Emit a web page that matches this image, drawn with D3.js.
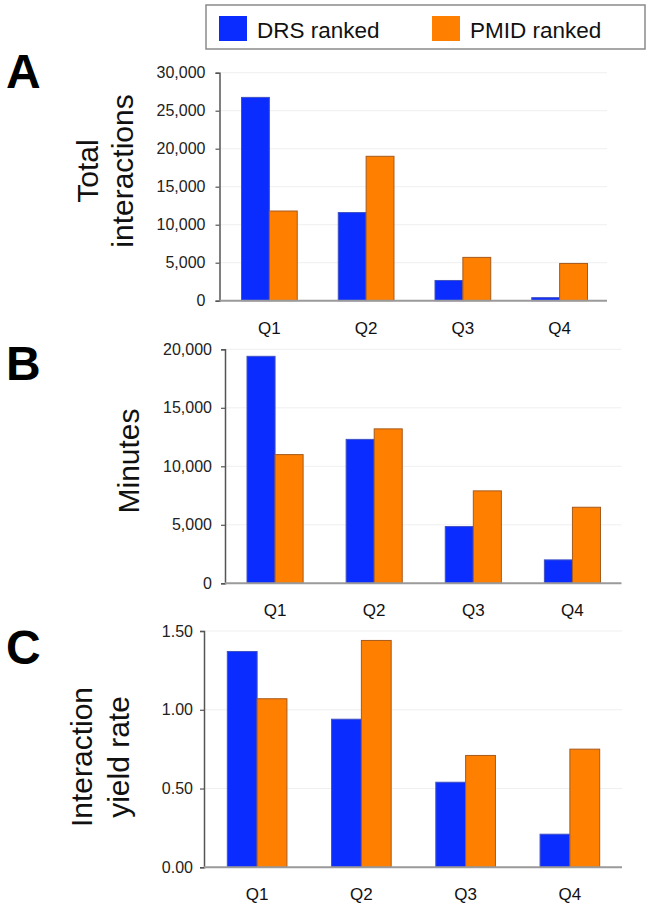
<!DOCTYPE html>
<html>
<head>
<meta charset="utf-8">
<script src="https://cdn.jsdelivr.net/npm/d3@7"></script>
<style>
  html, body { margin: 0; padding: 0; background: #fff; }
  svg { display: block; font-family: "Liberation Sans", Arial, sans-serif; }
</style>
</head>
<body>
<svg id="chart" width="652" height="909"></svg>
<script>
// ---- data ----
const categories = ["Q1", "Q2", "Q3", "Q4"];
const seriesNames = ["DRS ranked", "PMID ranked"];
const interactionsDRS = [26750, 11600, 2660, 400];
const interactionsPMID = [11800, 19000, 5700, 4900];
const minutesDRS = [19400, 12300, 4850, 2000];
const minutesPMID = [11000, 13200, 7900, 6500];
const yieldDRS = [1.37, 0.94, 0.54, 0.21];
const yieldPMID = [1.07, 1.44, 0.71, 0.75];
const interactionsTicks = [0, 5000, 10000, 15000, 20000, 25000, 30000];
const minutesTicks = [0, 5000, 10000, 15000, 20000];
const yieldTicks = [0, 0.5, 1.0, 1.5];

// ---- styles ----
const fills = ["#0b2cff", "#ff7f00"];
const strokes = ["#4052c4", "#a65a1c"];

const panels = [
  { letter: "A", letterY: 88, title: ["Total", "interactions"], titleX: [98, 133], titleY: 171,
    drs: interactionsDRS, pmid: interactionsPMID, ticks: interactionsTicks, fmt: d3.format(","),
    left: 219.5, right: 607, top: 72.7, bottom: 300.7, band: [221, 608], pi: 0.424, tickPad: 10 },
  { letter: "B", letterY: 380, title: ["Minutes"], titleX: [139], titleY: 461,
    drs: minutesDRS, pmid: minutesPMID, ticks: minutesTicks, fmt: d3.format(","),
    left: 225, right: 621.5, top: 349.3, bottom: 583.3, band: [225.5, 622], pi: 0.434, tickPad: 9 },
  { letter: "C", letterY: 664, title: ["Interaction", "yield rate"], titleX: [92, 129], titleY: 757,
    drs: yieldDRS, pmid: yieldPMID, ticks: yieldTicks, fmt: d3.format(".2f"),
    left: 204, right: 622, top: 631, bottom: 867.3, band: [205, 622], pi: 0.428, tickPad: 7 }
];

const svg = d3.select("#chart");

// ---- legend ----
const legend = svg.append("g");
legend.append("rect").attr("x", 206).attr("y", 5).attr("width", 439).attr("height", 44)
  .attr("fill", "#fff").attr("stroke", "#8a8a8a").attr("stroke-width", 1.5);
const legendX = [219, 432];
seriesNames.forEach((name, i) => {
  legend.append("rect").attr("x", legendX[i]).attr("y", 16).attr("width", 28).attr("height", 25)
    .attr("fill", fills[i]);
  legend.append("text").attr("x", legendX[i] + 38).attr("y", 37.5)
    .attr("font-size", 22.5).attr("fill", "#111").text(name);
});

// ---- panels ----
panels.forEach(p => {
  const g = svg.append("g");
  const maxV = p.ticks[p.ticks.length - 1];
  const y = d3.scaleLinear().domain([0, maxV]).range([p.bottom, p.top]);
  const x = d3.scaleBand().domain(categories).range(p.band)
    .paddingInner(p.pi).paddingOuter(p.pi / 2);
  const xs = d3.scaleBand().domain(seriesNames).range([0, x.bandwidth()]);

  // gridlines
  g.append("g").selectAll("line").data(p.ticks.filter(t => t > 0)).join("line")
    .attr("x1", p.left).attr("x2", p.right)
    .attr("y1", d => y(d)).attr("y2", d => y(d))
    .attr("stroke", "#efefef").attr("stroke-width", 1);

  // bars
  const rows = categories.map((c, i) => ({ cat: c, vals: [p.drs[i], p.pmid[i]] }));
  const grp = g.append("g").selectAll("g").data(rows).join("g")
    .attr("transform", d => `translate(${x(d.cat)},0)`);
  grp.selectAll("rect").data(d => d.vals.map((v, j) => ({ v, j }))).join("rect")
    .attr("x", d => xs(seriesNames[d.j]))
    .attr("width", xs.bandwidth())
    .attr("y", d => y(d.v))
    .attr("height", d => y(0) - y(d.v))
    .attr("fill", d => fills[d.j])
    .attr("stroke", d => strokes[d.j])
    .attr("stroke-width", 1);

  // y axis
  const ya = g.append("g").attr("transform", `translate(${p.left},0)`)
    .call(d3.axisLeft(y).tickValues(p.ticks).tickFormat(p.fmt).tickSize(4).tickPadding(p.tickPad));
  ya.select(".domain").attr("stroke", "#555").attr("stroke-width", 1.5);
  ya.selectAll(".tick line").attr("stroke", "#555").attr("stroke-width", 1.2);
  ya.selectAll("text").attr("font-size", 16).attr("fill", "#222")
    .attr("font-family", "Liberation Sans, Arial, sans-serif");

  // baseline
  g.append("line").attr("x1", p.left).attr("x2", p.right)
    .attr("y1", y(0)).attr("y2", y(0)).attr("stroke", "#9a9a9a").attr("stroke-width", 2);

  // x axis labels
  const xa = g.append("g").attr("transform", `translate(0,${p.bottom})`)
    .call(d3.axisBottom(x).tickSize(0).tickPadding(21));
  xa.select(".domain").remove();
  xa.selectAll("text").attr("font-size", 17).attr("fill", "#111")
    .attr("font-family", "Liberation Sans, Arial, sans-serif");

  // y title
  p.title.forEach((t, i) => {
    g.append("text")
      .attr("transform", `translate(${p.titleX[i]},${p.titleY}) rotate(-90)`)
      .attr("text-anchor", "middle").attr("font-size", 30).attr("fill", "#111").text(t);
  });

  // panel letter
  g.append("text").attr("x", 6).attr("y", p.letterY)
    .attr("font-size", 48).attr("font-weight", "bold").attr("fill", "#000").text(p.letter);
});
</script>
</body>
</html>
